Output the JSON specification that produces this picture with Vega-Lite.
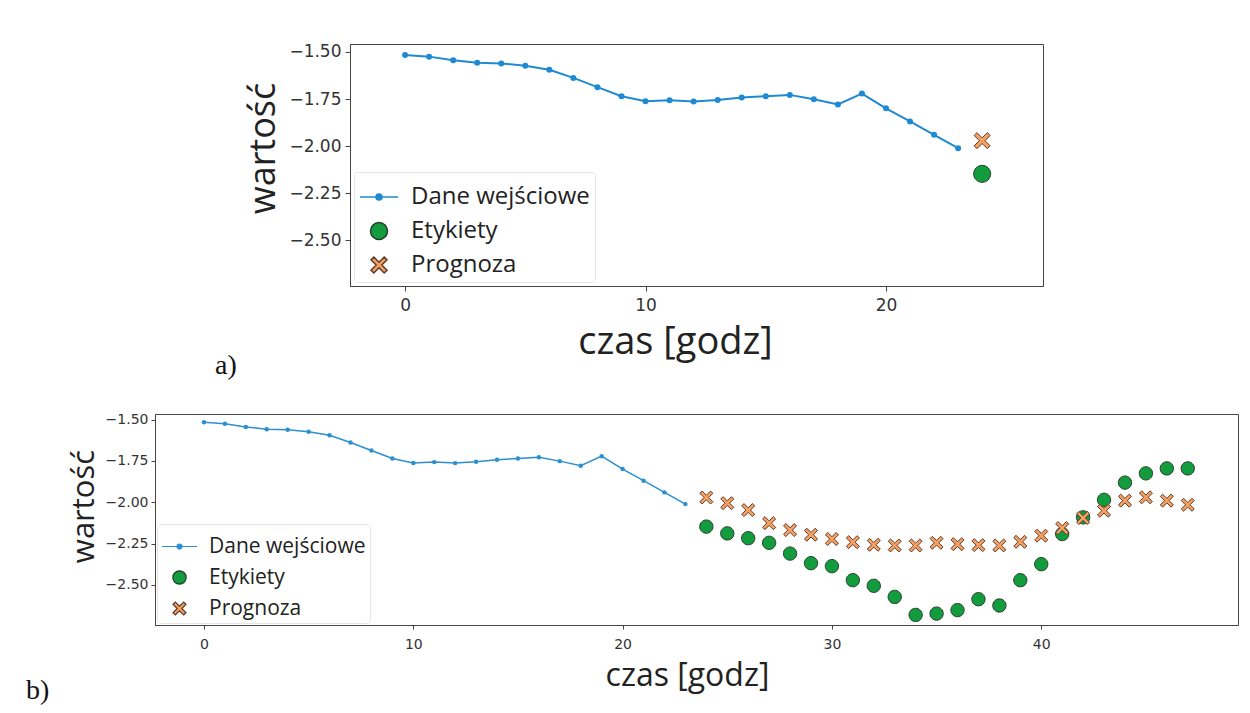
{
  "$schema": "https://vega.github.io/schema/vega-lite/v6.json",
  "background": "white",
  "autosize": {"type": "pad"},
  "padding": {"left": 25, "top": 42, "right": 13, "bottom": 8},
  "bounds": "flush",
  "center": true,
  "spacing": 128,
  "config": {
    "view": {"stroke": "#444", "strokeWidth": 1},
    "axis": {"grid": false, "domainColor": "#444", "tickColor": "#444", "labelColor": "#333", "labelFont": "DejaVu Sans", "titleFont": "Open Sans", "titleFontWeight": "normal", "titleColor": "#222", "labelFlush": false},
    "legend": {"labelFont": "Open Sans", "labelColor": "#222", "labelLimit": 400},
    "title": {"font": "Liberation Serif", "fontWeight": "normal", "color": "#111"}
  },
  "datasets": {
    "d": [
      {"h": 0, "v": -1.516, "series": "Dane wejściowe"},
      {"h": 1, "v": -1.525, "series": "Dane wejściowe"},
      {"h": 2, "v": -1.544, "series": "Dane wejściowe"},
      {"h": 3, "v": -1.558, "series": "Dane wejściowe"},
      {"h": 4, "v": -1.561, "series": "Dane wejściowe"},
      {"h": 5, "v": -1.573, "series": "Dane wejściowe"},
      {"h": 6, "v": -1.595, "series": "Dane wejściowe"},
      {"h": 7, "v": -1.638, "series": "Dane wejściowe"},
      {"h": 8, "v": -1.687, "series": "Dane wejściowe"},
      {"h": 9, "v": -1.735, "series": "Dane wejściowe"},
      {"h": 10, "v": -1.762, "series": "Dane wejściowe"},
      {"h": 11, "v": -1.757, "series": "Dane wejściowe"},
      {"h": 12, "v": -1.763, "series": "Dane wejściowe"},
      {"h": 13, "v": -1.755, "series": "Dane wejściowe"},
      {"h": 14, "v": -1.742, "series": "Dane wejściowe"},
      {"h": 15, "v": -1.735, "series": "Dane wejściowe"},
      {"h": 16, "v": -1.728, "series": "Dane wejściowe"},
      {"h": 17, "v": -1.751, "series": "Dane wejściowe"},
      {"h": 18, "v": -1.779, "series": "Dane wejściowe"},
      {"h": 19, "v": -1.721, "series": "Dane wejściowe"},
      {"h": 20, "v": -1.799, "series": "Dane wejściowe"},
      {"h": 21, "v": -1.869, "series": "Dane wejściowe"},
      {"h": 22, "v": -1.940, "series": "Dane wejściowe"},
      {"h": 23, "v": -2.011, "series": "Dane wejściowe"},
      {"h": 24, "v": -2.147, "series": "Etykiety"},
      {"h": 25, "v": -2.188, "series": "Etykiety"},
      {"h": 26, "v": -2.217, "series": "Etykiety"},
      {"h": 27, "v": -2.245, "series": "Etykiety"},
      {"h": 28, "v": -2.310, "series": "Etykiety"},
      {"h": 29, "v": -2.368, "series": "Etykiety"},
      {"h": 30, "v": -2.386, "series": "Etykiety"},
      {"h": 31, "v": -2.471, "series": "Etykiety"},
      {"h": 32, "v": -2.505, "series": "Etykiety"},
      {"h": 33, "v": -2.572, "series": "Etykiety"},
      {"h": 34, "v": -2.681, "series": "Etykiety"},
      {"h": 35, "v": -2.673, "series": "Etykiety"},
      {"h": 36, "v": -2.652, "series": "Etykiety"},
      {"h": 37, "v": -2.586, "series": "Etykiety"},
      {"h": 38, "v": -2.624, "series": "Etykiety"},
      {"h": 39, "v": -2.471, "series": "Etykiety"},
      {"h": 40, "v": -2.374, "series": "Etykiety"},
      {"h": 41, "v": -2.192, "series": "Etykiety"},
      {"h": 42, "v": -2.091, "series": "Etykiety"},
      {"h": 43, "v": -1.985, "series": "Etykiety"},
      {"h": 44, "v": -1.881, "series": "Etykiety"},
      {"h": 45, "v": -1.825, "series": "Etykiety"},
      {"h": 46, "v": -1.795, "series": "Etykiety"},
      {"h": 47, "v": -1.795, "series": "Etykiety"},
      {"h": 24, "v": -1.971, "series": "Prognoza"},
      {"h": 25, "v": -2.005, "series": "Prognoza"},
      {"h": 26, "v": -2.047, "series": "Prognoza"},
      {"h": 27, "v": -2.126, "series": "Prognoza"},
      {"h": 28, "v": -2.168, "series": "Prognoza"},
      {"h": 29, "v": -2.196, "series": "Prognoza"},
      {"h": 30, "v": -2.222, "series": "Prognoza"},
      {"h": 31, "v": -2.241, "series": "Prognoza"},
      {"h": 32, "v": -2.257, "series": "Prognoza"},
      {"h": 33, "v": -2.261, "series": "Prognoza"},
      {"h": 34, "v": -2.261, "series": "Prognoza"},
      {"h": 35, "v": -2.245, "series": "Prognoza"},
      {"h": 36, "v": -2.253, "series": "Prognoza"},
      {"h": 37, "v": -2.259, "series": "Prognoza"},
      {"h": 38, "v": -2.261, "series": "Prognoza"},
      {"h": 39, "v": -2.239, "series": "Prognoza"},
      {"h": 40, "v": -2.202, "series": "Prognoza"},
      {"h": 41, "v": -2.156, "series": "Prognoza"},
      {"h": 42, "v": -2.095, "series": "Prognoza"},
      {"h": 43, "v": -2.051, "series": "Prognoza"},
      {"h": 44, "v": -1.990, "series": "Prognoza"},
      {"h": 45, "v": -1.970, "series": "Prognoza"},
      {"h": 46, "v": -1.990, "series": "Prognoza"},
      {"h": 47, "v": -2.015, "series": "Prognoza"}
    ]
  },
  "resolve": {
    "scale": {"x": "independent", "y": "independent", "fill": "independent", "stroke": "independent", "shape": "independent"},
    "legend": {"fill": "independent", "stroke": "independent", "shape": "independent"}
  },
  "vconcat": [
    {
      "width": 693,
      "height": 242,
      "title": {"text": "a)", "orient": "bottom", "anchor": "start", "frame": "group", "fontSize": 28, "dx": -135, "offset": -9},
      "data": {"name": "d"},
      "transform": [{"filter": "datum.h <= 24"}],
      "encoding": {
        "x": {"field": "h", "type": "quantitative",
          "scale": {"domain": [-2.29, 26.53], "nice": false, "zero": false},
          "axis": {"values": [0, 10, 20], "format": "d", "title": "czas [godz]", "titleFontSize": 38, "labelFontSize": 17, "tickSize": 5, "labelPadding": 6, "titleX": 325, "titleY": 37}},
        "y": {"field": "v", "type": "quantitative",
          "scale": {"domain": [-2.742, -1.458], "nice": false, "zero": false},
          "axis": {"values": [-1.5, -1.75, -2, -2.25, -2.5], "format": ".2f", "title": "wartość", "titleFontSize": 36, "labelFontSize": 17, "tickSize": 5, "labelPadding": 4, "titlePadding": 6, "titleY": 104}}
      },
      "layer": [
        {
          "transform": [{"filter": "datum.series === 'Dane wejściowe'"}],
          "mark": {"type": "line", "color": "#1f8ad2", "strokeWidth": 2, "point": {"filled": true, "size": 36, "color": "#1f8ad2", "opacity": 1}}
        },
        {
          "transform": [{"filter": "datum.series !== 'Dane wejściowe'"}],
          "mark": {"type": "point", "filled": true, "opacity": 1, "size": 1444, "strokeWidth": 1},
          "encoding": {
            "fill": {"field": "series", "type": "nominal",
              "scale": {"domain": ["Dane wejściowe", "Etykiety", "Prognoza"], "range": ["#1f8ad2", "#129c3e", "#f6a062"]},
              "legend": {"title": null, "orient": "bottom-left", "offset": 4, "labelFontSize": 24, "symbolSize": 1444, "symbolStrokeWidth": 1.5, "labelOffset": 12, "rowPadding": 2, "padding": 5, "strokeColor": "#e6e6e6", "fillColor": "#ffffff", "cornerRadius": 3}},
            "stroke": {"field": "series", "type": "nominal",
              "scale": {"domain": ["Dane wejściowe", "Etykiety", "Prognoza"], "range": ["#1f8ad2", "#243c2a", "#5e3a2a"]}},
            "shape": {"field": "series", "type": "nominal",
              "scale": {"domain": ["Dane wejściowe", "Etykiety", "Prognoza"], "range": [
                "M-1,0H1M-0.16,0A0.16,0.16,0,1,1,0.16,0A0.16,0.16,0,1,1,-0.16,0Z",
                "M-0.447,0A0.447,0.447,0,1,1,0.447,0A0.447,0.447,0,1,1,-0.447,0Z",
                "M0,-0.147L0.273,-0.42L0.42,-0.273L0.147,0L0.42,0.273L0.273,0.42L0,0.147L-0.273,0.42L-0.42,0.273L-0.147,0L-0.42,-0.273L-0.273,-0.42Z"]}}
          }
        }
      ]
    },
    {
      "width": 1083,
      "height": 211,
      "title": {"text": "b)", "orient": "bottom", "anchor": "start", "frame": "group", "fontSize": 28, "dx": -129, "offset": -14},
      "data": {"name": "d"},
      "encoding": {
        "x": {"field": "h", "type": "quantitative",
          "scale": {"domain": [-2.34, 49.4], "nice": false, "zero": false},
          "axis": {"values": [0, 10, 20, 30, 40], "format": "d", "title": "czas [godz]", "titleFontSize": 32, "labelFontSize": 14, "tickSize": 4, "labelPadding": 8, "titleX": 532, "titleY": 35}},
        "y": {"field": "v", "type": "quantitative",
          "scale": {"domain": [-2.742, -1.466], "nice": false, "zero": false},
          "axis": {"values": [-1.5, -1.75, -2, -2.25, -2.5], "format": ".2f", "title": "wartość", "titleFontSize": 31, "labelFontSize": 14, "tickSize": 4, "labelPadding": 3, "titlePadding": 5, "titleY": 92}}
      },
      "layer": [
        {
          "transform": [{"filter": "datum.series === 'Dane wejściowe'"}],
          "mark": {"type": "line", "color": "#2b8fd0", "strokeWidth": 1.5, "point": {"filled": true, "size": 20, "color": "#2b8fd0", "opacity": 1}}
        },
        {
          "transform": [{"filter": "datum.series !== 'Dane wejściowe'"}],
          "mark": {"type": "point", "filled": true, "opacity": 1, "size": 1225, "strokeWidth": 1},
          "encoding": {
            "fill": {"field": "series", "type": "nominal",
              "scale": {"domain": ["Dane wejściowe", "Etykiety", "Prognoza"], "range": ["#2b8fd0", "#129c3e", "#f6a062"]},
              "legend": {"title": null, "orient": "bottom-left", "offset": 2, "labelFontSize": 21, "symbolSize": 1225, "symbolStrokeWidth": 1.2, "labelOffset": 11, "rowPadding": 2, "padding": 4, "strokeColor": "#e6e6e6", "fillColor": "#ffffff", "cornerRadius": 3}},
            "stroke": {"field": "series", "type": "nominal",
              "scale": {"domain": ["Dane wejściowe", "Etykiety", "Prognoza"], "range": ["#2b8fd0", "#243c2a", "#5e3a2a"]}},
            "shape": {"field": "series", "type": "nominal",
              "scale": {"domain": ["Dane wejściowe", "Etykiety", "Prognoza"], "range": [
                "M-1,0H1M-0.143,0A0.143,0.143,0,1,1,0.143,0A0.143,0.143,0,1,1,-0.143,0Z",
                "M-0.38,0A0.38,0.38,0,1,1,0.38,0A0.38,0.38,0,1,1,-0.38,0Z",
                "M0,-0.13L0.241,-0.371L0.371,-0.241L0.13,0L0.371,0.241L0.241,0.371L0,0.13L-0.241,0.371L-0.371,0.241L-0.13,0L-0.371,-0.241L-0.241,-0.371Z"]}}
          }
        }
      ]
    }
  ]
}
